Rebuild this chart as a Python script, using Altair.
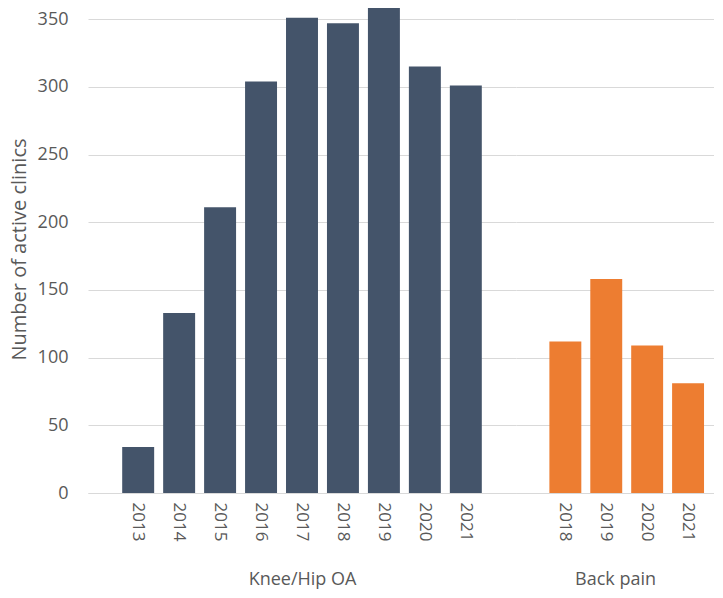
import altair as alt
import pandas as pd

knee_years = ["2013", "2014", "2015", "2016", "2017", "2018", "2019", "2020", "2021"]
knee_values = [34, 133, 211, 304, 351, 347, 360, 315, 301]
back_years = ["2018", "2019", "2020", "2021"]
back_values = [112, 158, 109, 81]
y_ticks = [0, 50, 100, 150, 200, 250, 300, 350]

FONT = "Open Sans"
TEXT = "#595959"
GRID = "#D9D9D9"
YMAX = 360.5

knee_df = pd.DataFrame({"year": knee_years, "clinics": knee_values})
back_df = pd.DataFrame({"year": back_years, "clinics": back_values})

yscale = alt.Scale(domain=[0, YMAX], nice=False, zero=True)


def x_axis(title):
    return alt.Axis(title=title, labelAngle=90, ticks=False,
                    labelPadding=9, titlePadding=30, domainColor=GRID,
                    labelFontSize=17, titleFontSize=18, labelFont=FONT,
                    titleFont=FONT, labelColor=TEXT, titleColor=TEXT,
                    titleFontWeight="normal", labelBaseline="middle",
                    labelAlign="left")


left = alt.Chart(knee_df).mark_bar(color="#44546A").encode(
    x=alt.X("year:N", sort=knee_years,
            scale=alt.Scale(paddingInner=0.2195, paddingOuter=0.835),
            axis=x_axis("Knee/Hip OA")),
    y=alt.Y("clinics:Q", scale=yscale,
            axis=alt.Axis(title="Number of active clinics", values=y_ticks,
                          ticks=False, domain=False, gridColor=GRID, labelPadding=20,
                          titlePadding=8, labelFontSize=18, titleFontSize=20,
                          labelFont=FONT, titleFont=FONT, labelColor=TEXT,
                          titleColor=TEXT, titleFontWeight="normal")),
).properties(width=428, height=488)

right = alt.Chart(back_df).mark_bar(color="#ED7D31").encode(
    x=alt.X("year:N", sort=back_years,
            scale=alt.Scale(paddingInner=0.2195, paddingOuter=0.53, align=0.77),
            axis=x_axis("Back pain")),
    y=alt.Y("clinics:Q", scale=yscale,
            axis=alt.Axis(title=None, labels=False, ticks=False, domain=False,
                          gridColor=GRID, values=y_ticks)),
).properties(width=198, height=488)

chart = alt.hconcat(left, right, spacing=0).resolve_scale(y="independent").configure_view(
    stroke=None
).properties(padding={"left": 1, "top": -3, "right": 0, "bottom": 0})

chart.save("out.html", embed_options={"renderer": "svg", "actions": False})
